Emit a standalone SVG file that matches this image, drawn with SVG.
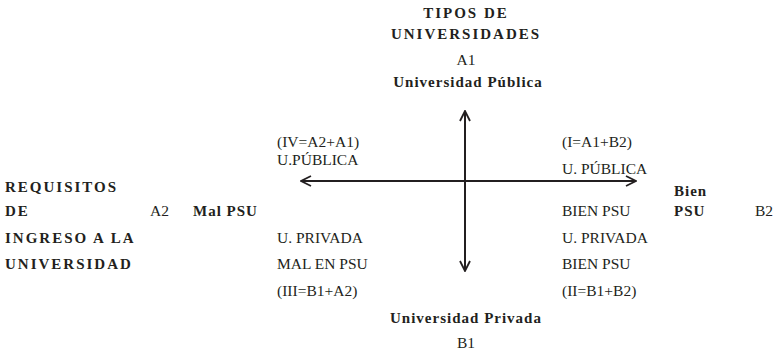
<svg xmlns="http://www.w3.org/2000/svg" width="780" height="357" viewBox="0 0 780 357">
<style>
.r{font-size:15.5px;fill:#231f20}
.b{font-size:15px;font-weight:bold;letter-spacing:1px;fill:#231f20}
.h{font-size:15px;font-weight:bold;letter-spacing:2px;fill:#231f20}
.c{text-anchor:middle}
.ax{stroke:#231f20;stroke-width:2;fill:none}
</style>
<defs>
<marker id="ar" viewBox="0 0 12 12" refX="11" refY="6" markerWidth="12" markerHeight="12" markerUnits="userSpaceOnUse" orient="auto-start-reverse">
<path d="M1,1 L11,6 L1,11" fill="none" stroke="#231f20" stroke-width="1.8"/>
</marker>
</defs>
<g id="connectors">
<line class="ax" x1="465" y1="111" x2="465" y2="271" marker-start="url(#ar)" marker-end="url(#ar)"/>
<line class="ax" x1="301" y1="181" x2="636" y2="181" marker-start="url(#ar)" marker-end="url(#ar)"/>
</g>
<g id="top">
<text font-family="Liberation Serif" class="h c" x="466" y="18">TIPOS DE</text>
<text font-family="Liberation Serif" class="h c" x="466" y="39">UNIVERSIDADES</text>
<text font-family="Liberation Serif" class="r c" x="466" y="65">A1</text>
<text font-family="Liberation Serif" class="b c" x="468" y="87">Universidad Pública</text>
</g>
<g id="left">
<text font-family="Liberation Serif" class="h" x="5" y="192">REQUISITOS</text>
<text font-family="Liberation Serif" class="h" x="5" y="216">DE</text>
<text font-family="Liberation Serif" class="r" x="150" y="216">A2</text>
<text font-family="Liberation Serif" class="b" x="193" y="216">Mal PSU</text>
<text font-family="Liberation Serif" class="h" x="5" y="243">INGRESO A LA</text>
<text font-family="Liberation Serif" class="h" x="5" y="269">UNIVERSIDAD</text>
</g>
<g id="q4">
<text font-family="Liberation Serif" class="r" x="277" y="147">(IV=A2+A1)</text>
<text font-family="Liberation Serif" class="r" x="277" y="165">U.PÚBLICA</text>
</g>
<g id="q1">
<text font-family="Liberation Serif" class="r" x="562" y="147">(I=A1+B2)</text>
<text font-family="Liberation Serif" class="r" x="562" y="174">U. PÚBLICA</text>
</g>
<g id="q3">
<text font-family="Liberation Serif" class="r" x="277" y="243">U. PRIVADA</text>
<text font-family="Liberation Serif" class="r" x="277" y="269">MAL EN PSU</text>
<text font-family="Liberation Serif" class="r" x="277" y="296">(III=B1+A2)</text>
</g>
<g id="q2">
<text font-family="Liberation Serif" class="r" x="562" y="216">BIEN PSU</text>
<text font-family="Liberation Serif" class="r" x="562" y="243">U. PRIVADA</text>
<text font-family="Liberation Serif" class="r" x="562" y="269">BIEN PSU</text>
<text font-family="Liberation Serif" class="r" x="562" y="296">(II=B1+B2)</text>
</g>
<g id="right">
<text font-family="Liberation Serif" class="b" x="674" y="196">Bien</text>
<text font-family="Liberation Serif" class="b" x="674" y="216">PSU</text>
<text font-family="Liberation Serif" class="r" x="755" y="216">B2</text>
</g>
<g id="bottom">
<text font-family="Liberation Serif" class="b c" x="466" y="323">Universidad Privada</text>
<text font-family="Liberation Serif" class="r c" x="466" y="348">B1</text>
</g>
</svg>
